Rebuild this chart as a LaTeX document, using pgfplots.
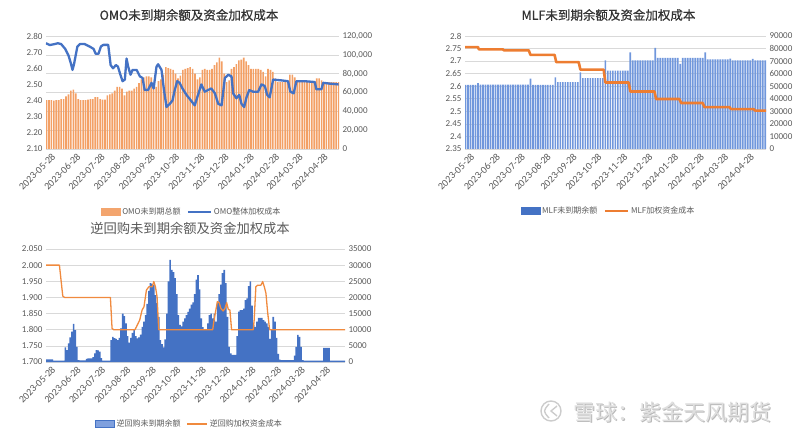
\documentclass[border=0pt]{standalone}
\usepackage{fontspec}
\setmainfont{Carlito}
\newfontfamily\cjk{Noto Sans CJK SC}
\newfontfamily\cjkb[FakeBold=0.7]{Noto Sans CJK SC}
\usepackage{pgfplots}
\usepackage{pgfplotstable}
\pgfplotsset{compat=1.18}
\definecolor{omoorange}{HTML}{F3A56E}
\definecolor{omofill}{HTML}{F3A065}
\definecolor{omoblue}{HTML}{4472C4}
\definecolor{mlfblue}{HTML}{7FA0DE}
\definecolor{mlffill}{HTML}{7097DC}
\definecolor{mlforange}{HTML}{ED7D31}
\definecolor{rrblue}{HTML}{4472C4}
\definecolor{rrorange}{HTML}{F08A3E}
\definecolor{gridc}{HTML}{D9D9D9}
\definecolor{txt}{HTML}{595959}

\pgfplotsset{
  base/.style={scale only axis, height=113pt, anchor=south west,
    axis line style={draw=none}, major tick length=0pt,
    tick label style={font=\fontsize{9}{10}\selectfont, text=txt},
    scaled y ticks=false},
  barax/.style={base, axis y line*=right, axis x line*=bottom,
    ymajorgrids, grid style={gridc, line width=0.6pt},
    xtick={0,31,61,92,123,153,184,214,245,276,305,336},
    xticklabels={2023-05-28,2023-06-28,2023-07-28,2023-08-28,2023-09-28,2023-10-28,2023-11-28,2023-12-28,2024-01-28,2024-02-28,2024-03-28,2024-04-28},
    xticklabel style={rotate=45, anchor=north east, inner sep=1pt, yshift=-3pt, font=\fontsize{10}{11}\selectfont}},
  lineax/.style={base, axis y line*=left, hide x axis},
  leg/.style={legend style={draw=none, fill=none, legend columns=2, font=\cjk\fontsize{8}{9}\selectfont, text=txt,
    /tikz/every even column/.append style={column sep=4pt}, inner sep=0pt}},
}

\pgfplotstableread{
day val
-3 52000
0 52000
3 52000
6 51500
9 52000
12 52000
15 53000
18 53000
21 56000
24 58000
27 62000
30 63000
33 59000
36 53000
39 52000
42 52000
45 52000
48 52500
51 53000
54 53000
57 55000
60 55000
63 53000
66 52500
69 52500
72 57000
75 58000
78 59000
81 62000
84 66000
87 66000
90 64000
93 57000
96 61000
99 62000
102 62000
105 64000
108 66000
111 70000
114 74000
117 76000
120 77000
123 77000
126 76000
129 70000
132 66000
135 72000
138 74000
141 79000
144 87000
147 86000
150 85000
153 84000
156 80000
159 75000
162 78000
165 84000
168 85000
171 86000
174 87000
177 85000
180 80000
183 74000
186 76000
189 84000
192 85000
195 84000
198 84000
201 85000
204 89000
207 92000
210 97000
213 93000
216 80000
219 71000
222 73000
225 85000
228 87000
231 90000
234 94000
237 95000
240 97000
243 93000
246 89000
249 85000
252 85000
255 85000
258 85000
261 84000
264 82000
267 77000
270 85000
273 84000
276 82000
279 75000
282 71000
285 71000
288 71000
291 71000
294 72000
297 79000
300 79000
303 76000
306 71000
309 71000
312 71000
315 71000
318 71000
321 71000
324 71000
327 71000
330 75000
333 75000
336 73000
339 71000
342 71000
345 71000
348 71000
351 71000
354 71000
357 71000
}\omobars

\pgfplotstableread{
day rate
-3.7 2.755
1 2.744
7 2.75
11 2.755
15 2.75
20 2.72
24 2.68
27 2.63
29 2.59
31 2.63
35 2.735
38 2.75
44 2.75
50 2.735
55 2.72
57.5 2.69
61 2.69
64 2.735
67 2.745
73 2.745
76 2.62
79 2.60
82.5 2.62
85 2.61
88 2.56
90.7 2.52
93.5 2.53
95.6 2.66
97.6 2.61
100.5 2.56
103 2.59
108 2.59
112 2.55
115.3 2.54
118 2.465
122 2.465
126.4 2.51
129 2.475
132.5 2.61
134.5 2.625
138.7 2.59
141.5 2.475
144.8 2.36
149 2.38
152.2 2.40
155 2.465
158 2.52
161 2.51
164.5 2.475
169.5 2.435
173.5 2.41
179.6 2.37
183.7 2.435
187.8 2.50
192 2.455
196 2.465
200 2.475
204.5 2.445
208.6 2.38
212.7 2.37
216.8 2.54
221 2.56
225 2.55
227 2.445
231 2.414
234.5 2.435
237.3 2.38
240.6 2.36
243.5 2.42
246.8 2.465
251.7 2.455
257.8 2.455
262 2.50
266 2.49
269 2.435
272 2.42
276.3 2.53
286.5 2.525
294.7 2.52
297.5 2.455
301.6 2.445
305 2.52
315 2.52
327.6 2.515
329.6 2.47
335.8 2.47
338 2.51
346 2.505
357 2.50
}\omorate

\pgfplotstableread{
day val
-3 51000
0 51000
3 51000
6 51000
9 51000
12 52500
15 51300
18 51300
21 51300
24 51300
27 51300
30 51300
33 51300
36 51300
39 51300
42 51300
45 51300
48 51300
51 51300
54 51300
57 51300
60 51300
63 51300
66 51300
69 51300
72 51300
75 56000
78 51000
81 51000
84 51000
87 51000
90 51000
93 51000
96 51000
99 51000
102 51000
105 57000
108 53200
111 53200
114 53200
117 53200
120 53200
123 53200
126 53200
129 53200
132 53200
135 61000
138 56400
141 56400
144 56400
147 56400
150 56400
153 56400
156 56400
159 56400
162 56400
165 70500
168 62500
171 62500
174 62500
177 62500
180 62500
183 62500
186 62500
189 62500
192 62500
195 77000
198 70500
201 70500
204 70500
207 70500
210 70500
213 70500
216 70500
219 70500
222 70500
225 80600
228 72600
231 72600
234 72600
237 72600
240 72600
243 72600
246 72600
249 72600
252 72600
255 67800
258 72600
261 72600
264 72600
267 72600
270 72600
273 72600
276 72600
279 72600
282 72600
285 76900
288 71300
291 71300
294 71300
297 71300
300 71300
303 71300
306 71300
309 71300
312 71300
315 72000
318 70500
321 70500
324 70500
327 70500
330 70500
333 70500
336 70500
339 70500
342 71800
345 70500
348 70500
351 70500
354 70500
357 70500
}\mlfbars

\pgfplotstableread{
day rate
-3.6 2.756
12 2.756
13 2.747
42 2.747
43 2.743
73 2.743
75 2.725
104 2.725
106 2.696
133 2.696
135 2.666
163 2.666
165 2.615
193 2.615
195 2.579
224 2.579
226 2.549
254 2.549
256 2.533
282 2.533
284 2.517
314 2.517
316 2.509
343 2.509
345 2.503
358 2.503
}\mlfrate

\pgfplotstableread{
day val
-4 800
-2 800
0 800
2 800
4 800
6 400
8 400
10 400
12 400
14 400
16 400
18 400
20 4500
22 3700
24 5800
26 7600
28 9400
30 11800
32 9900
34 4700
36 600
38 500
40 500
42 500
44 500
46 1000
48 1100
50 1100
52 1100
54 1500
56 2700
58 3700
60 3600
62 3200
64 1200
66 400
68 400
70 400
72 400
74 400
76 6800
78 7800
80 7400
82 7200
84 6800
86 7500
88 10400
90 15000
92 14200
94 12000
96 8000
98 6000
100 7500
102 9000
104 9900
106 8000
108 7300
110 7600
112 8500
114 10900
116 12500
118 14500
120 18000
122 22000
124 24400
126 24200
128 23800
130 20700
132 18200
134 14000
136 6800
138 5500
140 4500
142 7000
144 15000
146 25000
148 31600
150 28500
152 27800
154 26000
156 21000
158 14500
160 11500
162 11000
164 12500
166 13500
168 14500
170 15500
172 16500
174 17800
176 18500
178 21000
180 25500
182 26900
184 22500
186 13500
188 10800
190 9900
192 9900
194 12000
196 14500
198 15000
200 13500
202 15000
204 12500
206 18500
208 21000
210 24000
212 27500
214 28500
216 24400
218 14000
220 4700
222 2700
224 2200
226 2200
228 2200
230 8000
232 15600
234 16100
236 16100
238 16500
240 19200
242 19700
244 23500
246 25000
248 17500
250 11500
252 10900
254 12500
256 13700
258 13700
260 13700
262 13000
264 12500
266 12000
268 10900
270 7200
272 10000
274 14000
276 12500
278 7500
280 2500
282 700
284 600
286 600
288 600
290 600
292 600
294 600
296 600
298 600
300 2000
302 4700
304 8400
306 7800
308 4700
310 600
312 400
314 400
316 400
318 400
320 400
322 400
324 400
326 400
328 400
330 400
332 400
334 400
336 4400
338 4400
340 4400
342 4400
344 400
346 400
348 400
350 400
352 400
354 400
356 400
358 400
360 400
362 400
}\rrbars

\pgfplotstableread{
day rate
-3.7 2.000
12.7 2.000
16.8 1.904
19 1.900
75 1.900
77 1.804
79 1.800
105 1.800
107 1.81
110.8 1.83
113.7 1.861
116 1.871
119 1.923
122 1.933
126 1.933
128 1.949
130 1.933
132 1.902
134 1.800
200 1.800
201.6 1.83
205.7 1.887
207.8 1.884
210 1.866
212.7 1.858
215 1.866
217 1.884
219 1.863
221 1.861
223 1.800
249.5 1.800
250.6 1.83
252.7 1.933
254.8 1.938
258.9 1.938
261 1.949
263 1.933
265 1.913
267 1.856
269.5 1.800
361.6 1.800
}\rrrate

\begin{document}
\begin{tikzpicture}
\path[use as bounding box] (0pt,0pt) rectangle (800pt,-438pt);

% ---------- Panel 1: OMO ----------
\node[font=\cjkb\fontsize{12.5}{13}\selectfont, text=black!80] at (189pt,-15pt) {OMO未到期余额及资金加权成本};
\begin{axis}[barax, at={(46pt,-149pt)}, width=293pt,
  xmin=-3.7, xmax=357.5, ymin=0, ymax=120000,
  ytick={0,20000,40000,60000,80000,100000,120000},
  yticklabels={0,{20,000},{40,000},{60,000},{80,000},{100,000},{120,000}}]
\addplot[ybar, bar width=2, bar shift=0pt, fill=omofill, draw=none] table[x=day, y=val] {\omobars};
\end{axis}
\begin{axis}[lineax, leg, at={(46pt,-149pt)}, width=293pt,
  xmin=-3.7, xmax=357.5, ymin=2.1, ymax=2.8,
  ytick={2.1,2.2,2.3,2.4,2.5,2.6,2.7,2.8},
  yticklabels={2.10,2.20,2.30,2.40,2.50,2.60,2.70,2.80},
  legend style={at={(0.497,-0.5575)}, anchor=center}]
\addlegendimage{legend image code/.code={\fill[omoorange] (0pt,-3.5pt) rectangle (19pt,3.5pt);}}
\addlegendentry{OMO未到期总额}
\addplot[omoblue, line width=2.3pt, line join=round,
  legend image code/.code={\draw[omoblue, line width=2.3pt] (0pt,0pt) -- (23pt,0pt);}]
  table[x=day, y=rate] {\omorate};
\addlegendentry{OMO整体加权成本}
\end{axis}

% ---------- Panel 2: MLF ----------
\node[font=\cjkb\fontsize{12.5}{13}\selectfont, text=black!80] at (608.5pt,-15pt) {MLF未到期余额及资金加权成本};
\begin{axis}[barax, at={(465pt,-149pt)}, width=301pt,
  xmin=-3.6, xmax=358, ymin=0, ymax=90000,
  ytick={0,10000,20000,30000,40000,50000,60000,70000,80000,90000},
  yticklabels={0,10000,20000,30000,40000,50000,60000,70000,80000,90000}]
\addplot[ybar, bar width=2, bar shift=0pt, fill=mlffill, draw=none] table[x=day, y=val] {\mlfbars};
\end{axis}
\begin{axis}[lineax, leg, at={(465pt,-149pt)}, width=301pt,
  xmin=-3.6, xmax=358, ymin=2.35, ymax=2.8,
  ytick={2.35,2.4,2.45,2.5,2.55,2.6,2.65,2.7,2.75,2.8},
  yticklabels={2.35,2.4,2.45,2.5,2.55,2.6,2.65,2.7,2.75,2.8},
  legend style={at={(0.477,-0.549)}, anchor=center}]
\addlegendimage{legend image code/.code={\fill[omoblue] (0pt,-3.5pt) rectangle (19pt,3.5pt);}}
\addlegendentry{MLF未到期余额}
\addplot[mlforange, line width=2.6pt, line join=round,
  legend image code/.code={\draw[mlforange, line width=2.6pt] (0pt,0pt) -- (23pt,0pt);}]
  table[x=day, y=rate] {\mlfrate};
\addlegendentry{MLF加权资金成本}
\end{axis}

% ---------- Panel 3: reverse repo ----------
\node[font=\cjk\fontsize{13.3}{14}\selectfont, text=txt] at (190pt,-228pt) {逆回购未到期余额及资金加权成本};
\begin{axis}[barax, at={(46pt,-362pt)}, width=299pt,
  xmin=-3.7, xmax=361.6, ymin=0, ymax=35000,
  ytick={0,5000,10000,15000,20000,25000,30000,35000},
  yticklabels={0,5000,10000,15000,20000,25000,30000,35000}]
\addplot[const plot mark mid, fill=rrblue, draw=none] table[x=day, y=val] {\rrbars} \closedcycle;
\end{axis}
\begin{axis}[lineax, leg, at={(46pt,-362pt)}, width=299pt,
  xmin=-3.7, xmax=361.6, ymin=1.7, ymax=2.05,
  ytick={1.7,1.75,1.8,1.85,1.9,1.95,2.0,2.05},
  yticklabels={1.700,1.750,1.800,1.850,1.900,1.950,2.000,2.050},
  legend style={at={(0.48,-0.549)}, anchor=center}]
\addlegendimage{legend image code/.code={\fill[fill=mlfblue, draw=rrblue, line width=0.5pt] (0pt,-3.5pt) rectangle (19pt,3.5pt);}}
\addlegendentry{逆回购未到期余额}
\addplot[rrorange, line width=1.3pt, line join=round,
  legend image code/.code={\draw[rrorange, line width=1.3pt] (0pt,0pt) -- (20pt,0pt);}]
  table[x=day, y=rate] {\rrrate};
\addlegendentry{逆回购加权资金成本}
\end{axis}

% ---------- watermark ----------
\draw[gray!40, line width=1.4pt] (551pt,-411pt) circle (10pt);
\draw[gray!40, line width=1.4pt] (549pt,-404pt) .. controls (543pt,-411pt) .. (549pt,-418pt);
\draw[gray!40, line width=1.4pt] (557pt,-406pt) -- (551pt,-411pt) -- (557pt,-416pt);
\node[font=\cjk\fontsize{22}{22}\selectfont, text=gray!55, anchor=west] at (570.6pt,-412.6pt) {雪球：紫金天风期货};
\node[font=\cjk\fontsize{22}{22}\selectfont, text=gray!25, anchor=west] at (570pt,-412pt) {雪球：紫金天风期货};
\end{tikzpicture}
\end{document}
